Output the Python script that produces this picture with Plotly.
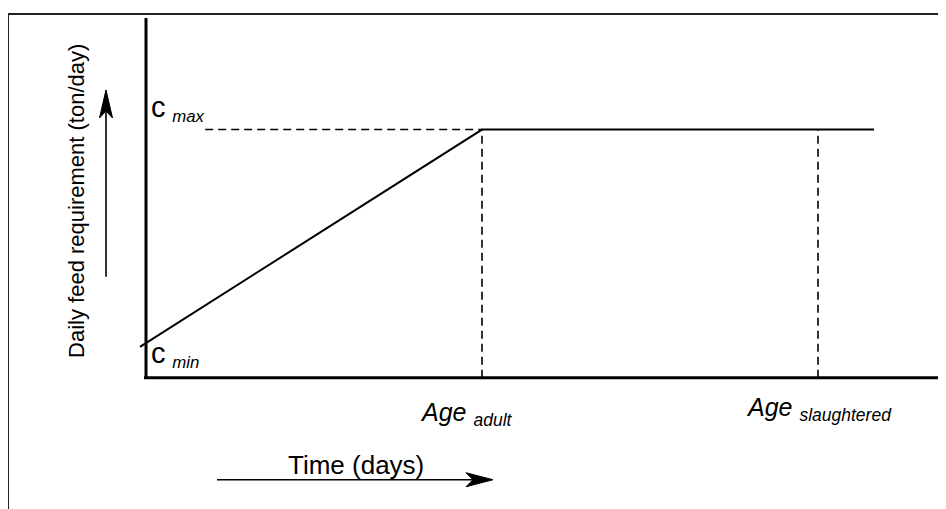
import plotly.graph_objects as go

# ---- data (schematic values) ----
age_adult = 42.0
age_slaughtered = 84.0
time_end = 91.0
time_start = -0.75
c_min = 8.6
c_max = 69.0
dash_start = 7.4

feed_x = [time_start, age_adult, time_end]
feed_y = [c_min, c_max, c_max]

# ---- layout geometry (page has an 8px body margin) ----
OFF = 8
WIDTH, HEIGHT = 946 - OFF, 509 - OFF
L, R, T = 134 - OFF, 0, 18 - OFF
X_RANGE = [-1.5, 100]
Y_RANGE = [-2, 100]
PLOT_W = WIDTH - L - R
PX_PER_Y = 3.6
PLOT_H = PX_PER_Y * (Y_RANGE[1] - Y_RANGE[0])
B = HEIGHT - T - PLOT_H
PLOT_BOTTOM = T + PLOT_H


def xp(px):
    return (px - OFF - L) / PLOT_W


def yp(py):
    return (PLOT_BOTTOM - (py - OFF)) / PLOT_H


FONT = "Liberation Sans, Arial, Helvetica, sans-serif"

fig = go.Figure()

fig.add_trace(go.Scatter(x=feed_x, y=feed_y, mode="lines",
                         line=dict(color="black", width=2), hoverinfo="skip"))
fig.add_trace(go.Scatter(x=[dash_start, age_adult], y=[c_max, c_max], mode="lines",
                         line=dict(color="black", width=1.6, dash="8px,5px"), hoverinfo="skip"))
for a in [age_adult, age_slaughtered]:
    fig.add_trace(go.Scatter(x=[a, a], y=[0, c_max], mode="lines",
                             line=dict(color="black", width=1.6, dash="8px,5px"), hoverinfo="skip"))

shapes = [
    # axes
    dict(type="line", xref="x", yref="y", x0=-0.25, x1=X_RANGE[1], y0=0, y1=0,
         line=dict(color="black", width=3)),
    dict(type="line", xref="x", yref="y", x0=0, x1=0, y0=0, y1=Y_RANGE[1],
         line=dict(color="black", width=3)),
    # outer frame
    dict(type="rect", xref="paper", yref="paper", x0=xp(8), x1=xp(1000), y0=yp(600), y1=yp(14),
         line=dict(color="#222222", width=2), fillcolor="rgba(0,0,0,0)"),
    # time arrow shaft
    dict(type="line", xref="paper", yref="paper", x0=xp(217), x1=xp(480), y0=yp(480), y1=yp(480),
         line=dict(color="black", width=1.6)),
    # feed arrow shaft
    dict(type="line", xref="paper", yref="paper", x0=xp(106), x1=xp(106), y0=yp(277), y1=yp(102),
         line=dict(color="black", width=1.6)),
    # time arrow head (pixel-sized, anchored at tip)
    dict(type="path", xref="paper", yref="paper", xsizemode="pixel", ysizemode="pixel",
         xanchor=xp(493), yanchor=yp(480), path="M0,0 L-27,7 L-20,0 L-27,-7 Z",
         line=dict(color="black", width=1), fillcolor="black"),
    # feed arrow head
    dict(type="path", xref="paper", yref="paper", xsizemode="pixel", ysizemode="pixel",
         xanchor=xp(106), yanchor=yp(90), path="M0,0 L6.5,-28 L0,-21 L-6.5,-28 Z",
         line=dict(color="black", width=1), fillcolor="black"),
]

ann = []


def label(text, px, py, size, xanchor="left", yanchor="middle", angle=0):
    ann.append(dict(text=text, xref="paper", yref="paper", x=xp(px), y=yp(py),
                    xanchor=xanchor, yanchor=yanchor, showarrow=False, textangle=angle,
                    font=dict(family=FONT, size=size, color="black")))


label("<span style='font-size:29px'>c</span> <sub><i>max</i></sub>", 149, 109, 24)
label("<span style='font-size:29px'>c</span> <sub><i>min</i></sub>", 149, 355, 24)
label("<i>Age</i> <sub><i>adult</i></sub>", 418, 414, 25)
label("<i>Age</i> <sub><i>slaughtered</i></sub>", 744, 409, 25)
label("Time (days)", 286, 465, 26)
label("Daily feed requirement (ton/day)", 77, 201, 22, xanchor="center", angle=-90)

fig.update_layout(
    width=WIDTH, height=HEIGHT,
    margin=dict(l=L, r=R, t=T, b=B, pad=0),
    paper_bgcolor="white", plot_bgcolor="white",
    showlegend=False,
    xaxis=dict(range=X_RANGE, visible=False, fixedrange=True),
    yaxis=dict(range=Y_RANGE, visible=False, fixedrange=True),
    shapes=shapes, annotations=ann,
)

fig.write_html("out.html")
